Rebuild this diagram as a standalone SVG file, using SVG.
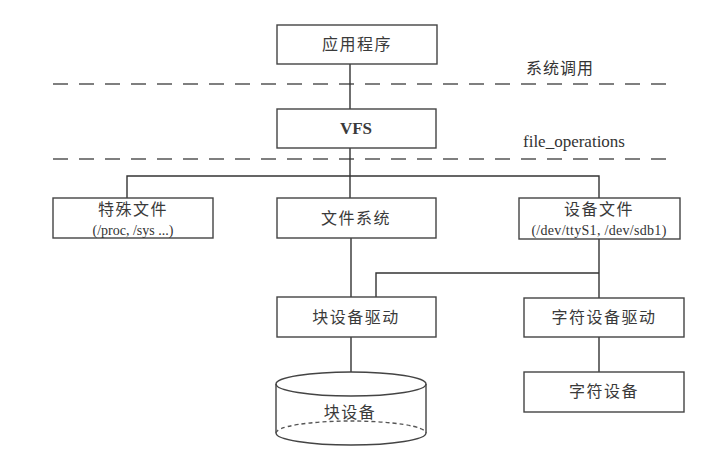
<svg xmlns="http://www.w3.org/2000/svg" width="721" height="459" viewBox="0 0 721 459">
<style>
.box{fill:#fff;stroke:#444;stroke-width:1.4}
.ln{fill:none;stroke:#333;stroke-width:1.4}
.dash{fill:none;stroke:#555;stroke-width:1.6;stroke-dasharray:15 11}
.t{font-family:"Liberation Serif","Noto Sans CJK SC",serif;font-size:16px;fill:#3a3a3a;text-anchor:middle;letter-spacing:1.5px}
.s{font-family:"Liberation Serif","Noto Sans CJK SC",serif;font-size:14px;fill:#333;text-anchor:middle}
.lbl{font-family:"Liberation Serif","Noto Sans CJK SC",serif;font-size:16px;fill:#333}
</style>
<rect width="721" height="459" fill="#fff"/>
<g id="separators">
<line class="dash" x1="53" y1="84" x2="676" y2="84"/>
<line class="dash" x1="53" y1="159" x2="676" y2="159"/>
<text class="lbl" x="526" y="74" style="letter-spacing:1px">系统调用</text>
<text class="lbl" x="523" y="147" style="font-size:17px">file_operations</text>
</g>
<g id="connectors">
<path class="ln" d="M350 64V109"/>
<path class="ln" d="M350 148V198"/>
<path class="ln" d="M127 198V176H599V198"/>
<path class="ln" d="M351 238V297"/>
<path class="ln" d="M599 239V298"/>
<path class="ln" d="M376 297V273H599"/>
<path class="ln" d="M351 337V372"/>
<path class="ln" d="M599 337V372"/>
</g>
<g id="app">
<rect class="box" x="277" y="25" width="160" height="39"/>
<text class="t" x="357" y="50">应用程序</text>
</g>
<g id="vfs">
<rect class="box" x="277" y="109" width="159" height="39"/>
<text class="t" x="356" y="134" style="font-weight:bold;letter-spacing:0;font-size:17px">VFS</text>
</g>
<g id="special">
<rect class="box" x="53" y="198" width="160" height="40"/>
<text class="t" x="133" y="215">特殊文件</text>
<text class="s" x="133" y="235">(/proc, /sys ...)</text>
</g>
<g id="fs">
<rect class="box" x="277" y="198" width="159" height="40"/>
<text class="t" x="356" y="224">文件系统</text>
</g>
<g id="devfile">
<rect class="box" x="519" y="198" width="161" height="41"/>
<text class="t" x="599" y="215">设备文件</text>
<text class="s" x="599" y="235" style="letter-spacing:0.3px">(/dev/ttyS1, /dev/sdb1)</text>
</g>
<g id="blkdrv">
<rect class="box" x="277" y="297" width="159" height="40"/>
<text class="t" x="356" y="323">块设备驱动</text>
</g>
<g id="chrdrv">
<rect class="box" x="524" y="298" width="160" height="39"/>
<text class="t" x="604" y="323">字符设备驱动</text>
</g>
<g id="chrdev">
<rect class="box" x="524" y="372" width="160" height="40"/>
<text class="t" x="604" y="397">字符设备</text>
</g>
<g id="blkdev">
<ellipse class="box" cx="351" cy="384" rx="75" ry="12"/>
<path class="ln" d="M276 384V433A75 12 0 0 0 426 433V384" style="stroke:#444"/>
<path class="ln" d="M276 433A75 12 0 0 1 426 433" style="stroke-dasharray:4 3;stroke:#555"/>
<text class="t" x="350" y="418">块设备</text>
</g>
</svg>
